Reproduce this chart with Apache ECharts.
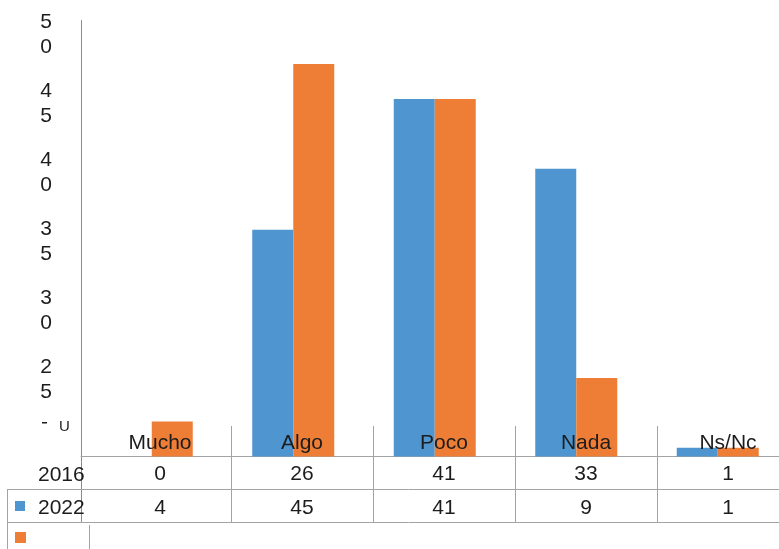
<!DOCTYPE html>
<html>
<head>
<meta charset="utf-8">
<script src="https://cdn.jsdelivr.net/npm/echarts@6/dist/echarts.min.js"></script>
<style>
html,body{margin:0;padding:0;background:#fff;overflow:hidden;}
#chart{width:810px;height:549px;}
</style>
</head>
<body>
<div id="chart"></div>
<script>
// ---- data ----
var categories = ['Mucho', 'Algo', 'Poco', 'Nada', 'Ns/Nc'];
var seriesNames = ['2016', '2022'];
var values2016 = [0, 26, 41, 33, 1];
var values2022 = [4, 45, 41, 9, 1];
var yTickLabels = ['50', '45', '40', '35', '30', '25'];

// ---- style / layout ----
var BLUE = '#4F96D0', ORANGE = '#EE7E36';
var TEXT = '#1c1c1c', LINE = '#a3a3a3', AXIS = '#8c8c8c';
var FONT = 'Liberation Sans, Arial, sans-serif';
var tableLeft = 89, colW = 142;

var chart = echarts.init(document.getElementById('chart'));

var graphics = [];
function hline(x1, x2, y, c) {
  graphics.push({type: 'line', shape: {x1: x1, y1: y, x2: x2, y2: y}, style: {stroke: c || LINE, lineWidth: 1}, silent: true});
}
function vline(x, y1, y2, c) {
  graphics.push({type: 'line', shape: {x1: x, y1: y1, x2: x, y2: y2}, style: {stroke: c || LINE, lineWidth: 1}, silent: true});
}
// table borders
vline(81.5, 457, 523, AXIS);
hline(7, 810, 489.5);
hline(7, 810, 522.5);
vline(7.5, 489, 549);
vline(89.5, 525, 549);
for (var i = 1; i < categories.length; i++) {
  vline(tableLeft + i * colW + 0.5, 426, 523);
}
// row headers (legend-like)
graphics.push({type: 'text', left: 38, top: 465, style: {text: seriesNames[0], fill: TEXT, font: '21px ' + FONT}});
graphics.push({type: 'rect', shape: {x: 15, y: 501, width: 10, height: 10}, style: {fill: BLUE}});
graphics.push({type: 'text', left: 38, top: 498, style: {text: seriesNames[1], fill: TEXT, font: '21px ' + FONT}});
graphics.push({type: 'rect', shape: {x: 15, y: 532, width: 11, height: 11}, style: {fill: ORANGE}});
// clipped remnant of the bottom axis label
graphics.push({type: 'rect', shape: {x: 42, y: 422, width: 5, height: 1.5}, style: {fill: TEXT}});
graphics.push({type: 'text', left: 59, top: 419, style: {text: 'U', fill: TEXT, font: '15px ' + FONT}});

var option = {
  animation: false,
  backgroundColor: '#fff',
  grid: [
    {left: 81, top: 20.5, width: 707.5, height: 436},          // bars
    {left: tableLeft, top: 400, width: colW * 5, height: 33},  // header row
    {left: tableLeft, top: 440, width: colW * 5, height: 24},  // 2016 row
    {left: tableLeft, top: 470, width: colW * 5, height: 28},  // 2022 row
    {left: 81, top: 34.5, width: 10, height: 345}              // y tick labels
  ],
  xAxis: [
    {gridIndex: 0, type: 'category', data: categories,
     axisLine: {show: true, lineStyle: {color: LINE, width: 1}},
     axisTick: {show: false}, axisLabel: {show: false}, splitLine: {show: false}},
    {gridIndex: 1, type: 'category', data: categories, z: 10,
     axisLine: {show: false}, axisTick: {show: false},
     axisLabel: {margin: 0, color: TEXT, fontSize: 21, fontFamily: FONT, interval: 0}},
    {gridIndex: 2, type: 'category', data: categories, z: 10,
     axisLine: {show: false}, axisTick: {show: false},
     axisLabel: {margin: 0, color: TEXT, fontSize: 21, fontFamily: FONT, interval: 0,
       formatter: function (v, idx) { return String(values2016[idx]); }}},
    {gridIndex: 3, type: 'category', data: categories, z: 10,
     axisLine: {show: false}, axisTick: {show: false},
     axisLabel: {margin: 0, color: TEXT, fontSize: 21, fontFamily: FONT, interval: 0,
       formatter: function (v, idx) { return String(values2022[idx]); }}},
    {gridIndex: 4, type: 'value', show: false}
  ],
  yAxis: [
    {gridIndex: 0, type: 'value', min: 0, max: 50, interval: 5,
     axisLine: {show: true, lineStyle: {color: AXIS, width: 1}},
     axisTick: {show: false}, axisLabel: {show: false}, splitLine: {show: false}},
    {gridIndex: 1, type: 'value', show: false},
    {gridIndex: 2, type: 'value', show: false},
    {gridIndex: 3, type: 'value', show: false},
    {gridIndex: 4, type: 'category', data: yTickLabels.slice().reverse(), boundaryGap: false,
     axisLine: {show: false}, axisTick: {show: false}, splitLine: {show: false},
     axisLabel: {margin: 29, color: TEXT, fontSize: 21, fontFamily: FONT, lineHeight: 25, interval: 0,
       formatter: function (v) { return v.split('').join('\n'); }}}
  ],
  series: [
    {name: seriesNames[0], type: 'bar', xAxisIndex: 0, yAxisIndex: 0, data: values2016,
     barWidth: 41, barGap: '0%', itemStyle: {color: BLUE}},
    {name: seriesNames[1], type: 'bar', xAxisIndex: 0, yAxisIndex: 0, data: values2022,
     barWidth: 41, barGap: '0%', itemStyle: {color: ORANGE}}
  ],
  graphic: graphics
};
chart.setOption(option);
</script>
</body>
</html>
